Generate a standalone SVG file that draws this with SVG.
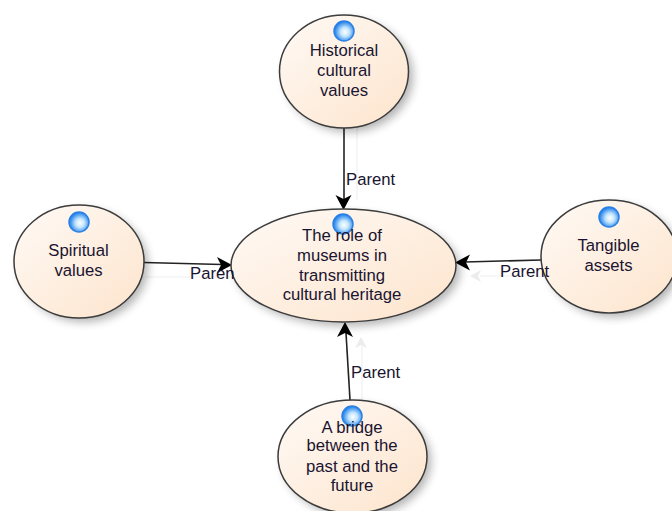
<svg xmlns="http://www.w3.org/2000/svg" width="672" height="511" viewBox="0 0 672 511">
<style>
.n{fill:url(#fill);stroke:#3c3c3c;stroke-width:1.5}
.s{fill:#000;opacity:.3;filter:url(#blur)}
.i{fill:url(#ball);stroke:#2a80e4;stroke-width:1.5}
.c{fill:none;stroke:#222;stroke-width:1.6}
.g{fill:none;stroke:#f0f0f0;stroke-width:1.2}
.h{fill:#000}
.gh{fill:#ececec}
text{font-family:"Liberation Sans",Arial,sans-serif;font-size:16.700px;fill:#1a1430;text-anchor:middle}
.l{text-anchor:start}
</style>
<defs>
<linearGradient id="fill" x1="0" y1="0" x2="1" y2="1"><stop offset="0" stop-color="#fffaf6"/><stop offset="1" stop-color="#fde4cc"/></linearGradient>
<radialGradient id="ball" cx=".55" cy=".55" r=".55"><stop offset="0" stop-color="#ffffff"/><stop offset=".4" stop-color="#c4e6fd"/><stop offset="1" stop-color="#1478ea"/></radialGradient>
<filter id="blur" x="-30%" y="-30%" width="160%" height="160%"><feGaussianBlur stdDeviation="5"/></filter>
</defs>
<g id="connectors">
<path class="g" d="M357 128V200"/>
<path class="g" d="M145 277H232"/>
<path class="g" d="M541 276H480"/><path class="gh" d="M470 276l11-6-3 6 3 6z"/>
<path class="g" d="M362 400V345"/><path class="gh" d="M361 337l6 11-6-3-6 3z"/>
<path class="c" d="M344 128V200"/><path class="h" d="M343.500 210l-8-15 8 4 8-4z"/>
<path class="c" d="M144 262.500L222 264.500"/><path class="h" d="M232 265l-15-8 4 8-4 8z"/>
<path class="c" d="M541 260L465 262"/><path class="h" d="M455 262.500l15-8-4 8 4 8z"/>
<path class="c" d="M350 400L346 333"/><path class="h" d="M345 322l-8 15 8-4 8 4z"/>
</g>
<g id="node-historical">
<ellipse class="s" cx="349" cy="76" rx="64" ry="56"/>
<ellipse class="n" cx="344" cy="71.500" rx="64.500" ry="56.500"/>
<circle class="i" cx="344" cy="31" r="10"/>
<text x="344" y="56">Historical</text><text x="344" y="76">cultural</text><text x="344" y="96">values</text>
</g>
<g id="node-spiritual">
<ellipse class="s" cx="84" cy="266" rx="64" ry="56"/>
<ellipse class="n" cx="79" cy="261.500" rx="65" ry="56.500"/>
<circle class="i" cx="79" cy="222" r="10"/>
<text x="78.500" y="256">Spiritual</text><text x="78.500" y="276">values</text>
</g>
<g id="node-tangible">
<ellipse class="s" cx="614" cy="261" rx="67" ry="56"/>
<ellipse class="n" cx="609" cy="256.500" rx="68" ry="56.500"/>
<circle class="i" cx="609" cy="217" r="10"/>
<text x="608.500" y="251">Tangible</text><text x="608.500" y="271">assets</text>
</g>
<g id="node-bridge">
<ellipse class="s" cx="357" cy="461" rx="74" ry="56"/>
<ellipse class="n" cx="352.500" cy="456.500" rx="74.500" ry="56.500"/>
<circle class="i" cx="352" cy="416" r="10"/>
<text x="352" y="433">A bridge</text><text x="352" y="451">between the</text><text x="352" y="472">past and the</text><text x="352" y="491">future</text>
</g>
<g id="node-role">
<ellipse class="s" cx="348" cy="270" rx="112" ry="56"/>
<ellipse class="n" cx="343.500" cy="265.500" rx="112.500" ry="56.500"/>
<circle class="i" cx="343" cy="224" r="10"/>
<text x="342" y="241">The role of</text><text x="342" y="261">museums in</text><text x="342" y="281">transmitting</text><text x="342" y="300">cultural heritage</text>
</g>
<g id="labels">
<text class="l" x="346" y="185">Parent</text>
<text class="l" x="190" y="279">Paren</text>
<text class="l" x="500" y="277">Parent</text>
<text class="l" x="351" y="378">Parent</text>
</g>
</svg>
